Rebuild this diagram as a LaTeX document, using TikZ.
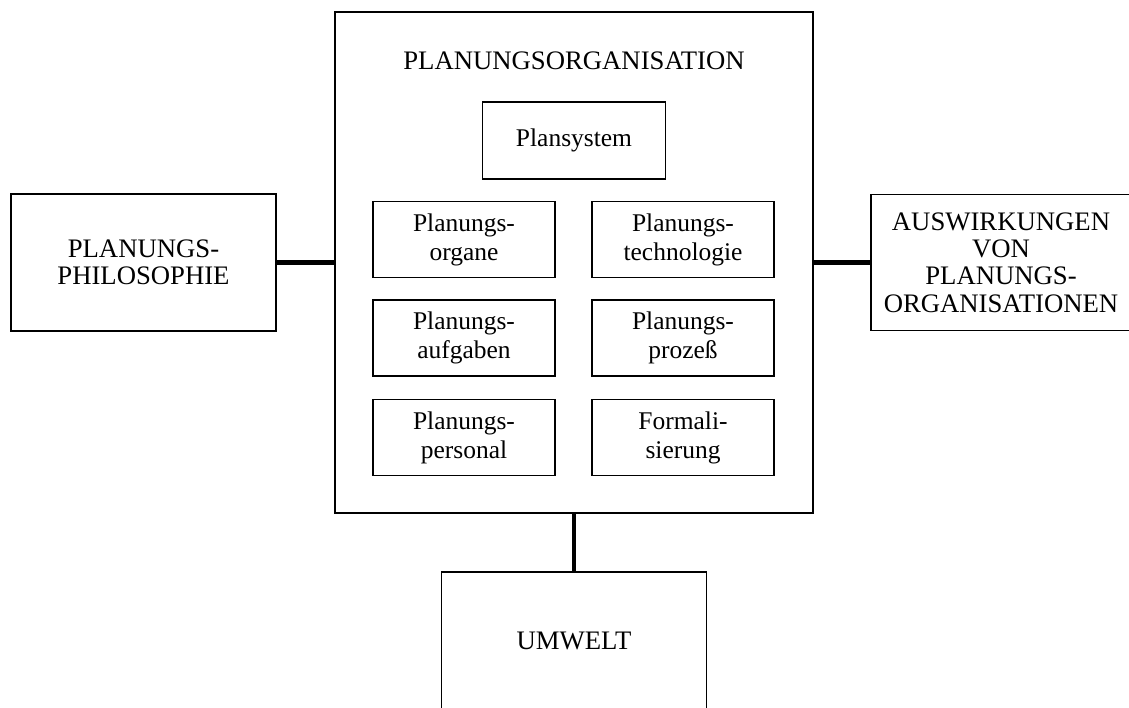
\documentclass[tikz,border=0pt]{standalone}
\usepackage{fontspec}
\setmainfont{Liberation Serif}
\usetikzlibrary{positioning}

\begin{document}
\begin{tikzpicture}[
  txt/.style={font=\fontsize{14.5}{16.5}\selectfont, align=center},
  capstxt/.style={font=\fontsize{15.2}{15.5}\selectfont, align=center},
  outerbox/.style={capstxt, draw, line width=0.8pt, minimum width=5.3cm, minimum height=2.74cm},
  innerbox/.style={txt, draw, line width=0.8pt, minimum width=3.64cm, minimum height=1.52cm},
  link/.style={line width=2.3pt}
]
  \useasboundingbox (0,0) rectangle (22.58,-14.14);

  % Planning organisation
  \node[draw, line width=0.8pt, minimum width=9.56cm, minimum height=10.02cm] (org) at (11.48,-5.25) {};
  \node[capstxt] (orgtitle) at (11.48,-1.21) {PLANUNGSORGANISATION};
  \node[innerbox, minimum width=3.66cm, minimum height=1.54cm] (plansys) at (11.48,-2.81) {Plansystem};

  \node[innerbox] (organe) at (9.28,-4.79) {Planungs-\\organe};
  \node[innerbox] (technik) at (13.66,-4.79) {Planungs-\\technologie};
  \node[innerbox] (aufgaben) at (9.28,-6.76) {Planungs-\\aufgaben};
  \node[innerbox] (prozess) at (13.66,-6.76) {Planungs-\\prozeß};
  \node[innerbox] (personal) at (9.28,-8.75) {Planungs-\\personal};
  \node[innerbox] (formal) at (13.66,-8.75) {Formali-\\sierung};

  % Surrounding boxes
  \node[outerbox] (philo) at (2.87,-5.25) {PLANUNGS-\\PHILOSOPHIE};
  \node[outerbox, minimum width=5.2cm, minimum height=2.72cm] (auswirk) at (20.02,-5.25) {AUSWIRKUNGEN\\VON\\PLANUNGS-\\ORGANISATIONEN};
  \node[outerbox] (umwelt) at (11.48,-12.81) {UMWELT};

  % Links
  \draw[link] (philo.east) -- (org.west);
  \draw[link] (org.east) -- (auswirk.west);
  \draw[link] (org.south) -- (umwelt.north);
\end{tikzpicture}
\end{document}
